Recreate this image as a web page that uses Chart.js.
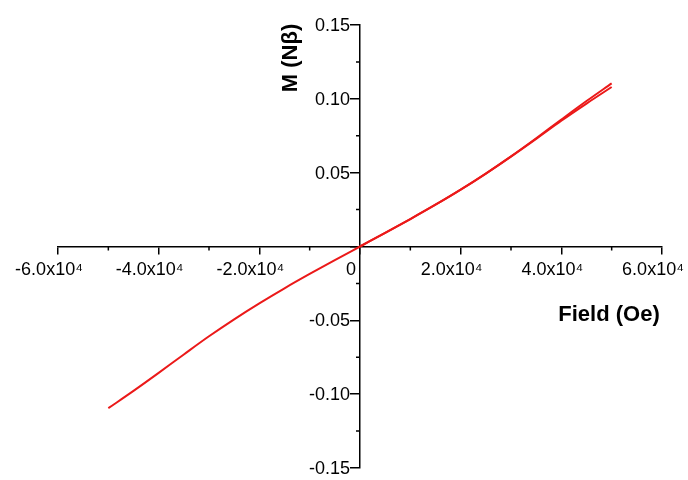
<!DOCTYPE html>
<html>
<head>
<meta charset="utf-8">
<script src="https://cdn.jsdelivr.net/npm/chart.js@4/dist/chart.umd.min.js"></script>
<style>
  body { margin: 0; background: #fff; }
</style>
</head>
<body>
<canvas id="chart" width="688" height="480"></canvas>
<script>
// field sweep (Oe) and magnetisation (N beta)
const fieldUp = [-50000, -45000, -40000, -35000, -30000, -25000, -20000, -15000, -10000, -5000, 0,
  5000, 10000, 15000, 20000, 25000, 30000, 35000, 40000, 45000, 50000];
const magUp = [-0.1095, -0.0978, -0.0856, -0.0731, -0.0608, -0.0493, -0.0385, -0.0283, -0.0186, -0.0092, 0,
  0.0092, 0.0186, 0.0283, 0.0385, 0.0494, 0.0610, 0.0733, 0.0860, 0.0985, 0.1105];
const fieldVirgin = [0, 5000, 10000, 15000, 20000, 25000, 30000, 35000, 40000, 45000, 50000];
const magVirgin = [0, 0.0092, 0.0186, 0.0283, 0.0385, 0.0494, 0.0609, 0.0729, 0.0852, 0.0968, 0.1080];

const xTitle = 'Field (Oe)';
const yTitle = 'M (N\u03b2)';
const lineColor = 'rgb(235,25,25)';
const tickFont = '18px "Liberation Sans", Arial, sans-serif';

const toPoints = (xs, ys) => xs.map((x, i) => ({ x: x, y: ys[i] }));

const xLabel = (v) => {
  if (v === 0) return '0';
  if (Math.abs(v) % 20000 !== 0) return '';
  return (v / 10000).toFixed(1) + 'x10\u2074';
};
const yLabel = (v) => {
  const k = Math.round(v * 1000);
  if (k === 0 || k % 50 !== 0) return '';
  return (k / 1000).toFixed(2);
};
const isMajorX = (v) => Math.abs(v) % 20000 === 0;
const isMajorY = (v) => Math.round(v * 1000) % 50 === 0;

// short minor ticks, y tick labels (centred axis ignores padding) and the axis titles
const extras = {
  id: 'extras',
  afterDraw(chart) {
    const ctx = chart.ctx;
    const xs = chart.scales.x;
    const ys = chart.scales.y;
    const x0 = xs.getPixelForValue(0);
    const y0 = ys.getPixelForValue(0);
    ctx.save();
    ctx.strokeStyle = '#000';
    ctx.lineWidth = 1.5;
    ctx.beginPath();
    xs.ticks.forEach((t) => {
      if (isMajorX(t.value)) return;
      const px = xs.getPixelForValue(t.value);
      ctx.moveTo(px, y0);
      ctx.lineTo(px, y0 + 4);
    });
    ys.ticks.forEach((t) => {
      if (isMajorY(t.value)) return;
      const py = ys.getPixelForValue(t.value);
      ctx.moveTo(x0, py);
      ctx.lineTo(x0 - 4, py);
    });
    ctx.stroke();

    ctx.fillStyle = '#000';
    ctx.font = tickFont;
    ctx.textAlign = 'right';
    ctx.textBaseline = 'middle';
    ys.ticks.forEach((t) => {
      const s = yLabel(t.value);
      if (s) ctx.fillText(s, x0 - 10, ys.getPixelForValue(t.value) + 1);
    });

    ctx.font = 'bold 22px "Liberation Sans", Arial, sans-serif';
    ctx.textAlign = 'center';
    ctx.textBaseline = 'alphabetic';
    ctx.fillText(xTitle, 609, 321);
    ctx.translate(297, 58);
    ctx.rotate(-Math.PI / 2);
    ctx.fillText(yTitle, 0, 0);
    ctx.restore();
  }
};

const noPad = (scale) => {
  scale.paddingLeft = 0;
  scale.paddingRight = 0;
  scale.paddingTop = 0;
  scale.paddingBottom = 0;
};

new Chart(document.getElementById('chart'), {
  type: 'line',
  data: {
    datasets: [
      {
        data: toPoints(fieldUp, magUp),
        borderColor: lineColor,
        borderWidth: 2,
        pointRadius: 0,
        fill: false,
        cubicInterpolationMode: 'monotone'
      },
      {
        data: toPoints(fieldVirgin, magVirgin),
        borderColor: lineColor,
        borderWidth: 2,
        pointRadius: 0,
        fill: false,
        cubicInterpolationMode: 'monotone'
      }
    ]
  },
  options: {
    responsive: false,
    animation: false,
    layout: { padding: { left: 58, right: 26, top: 25, bottom: 12 } },
    plugins: { legend: { display: false }, tooltip: { enabled: false } },
    scales: {
      x: {
        type: 'linear',
        position: { y: 0 },
        min: -60000,
        max: 60000,
        afterFit: noPad,
        border: { display: true, color: '#000', width: 1.5 },
        grid: {
          drawOnChartArea: false,
          drawTicks: true,
          tickLength: 7,
          lineWidth: 1.5,
          tickColor: (c) => (c.tick && isMajorX(c.tick.value) ? '#000' : 'rgba(0,0,0,0)')
        },
        ticks: {
          stepSize: 10000,
          autoSkip: false,
          maxRotation: 0,
          labelOffset: -9,
          padding: 6,
          color: '#000',
          font: { family: '"Liberation Sans", Arial, sans-serif', size: 18 },
          callback: xLabel
        }
      },
      y: {
        type: 'linear',
        position: { x: 0 },
        min: -0.15,
        max: 0.15,
        afterFit: noPad,
        border: { display: true, color: '#000', width: 1.5 },
        grid: {
          drawOnChartArea: false,
          drawTicks: true,
          tickLength: 9,
          lineWidth: 1.5,
          tickColor: (c) => (c.tick && isMajorY(c.tick.value) ? '#000' : 'rgba(0,0,0,0)')
        },
        ticks: {
          stepSize: 0.025,
          autoSkip: false,
          display: false
        }
      }
    }
  },
  plugins: [extras]
});
</script>
</body>
</html>
